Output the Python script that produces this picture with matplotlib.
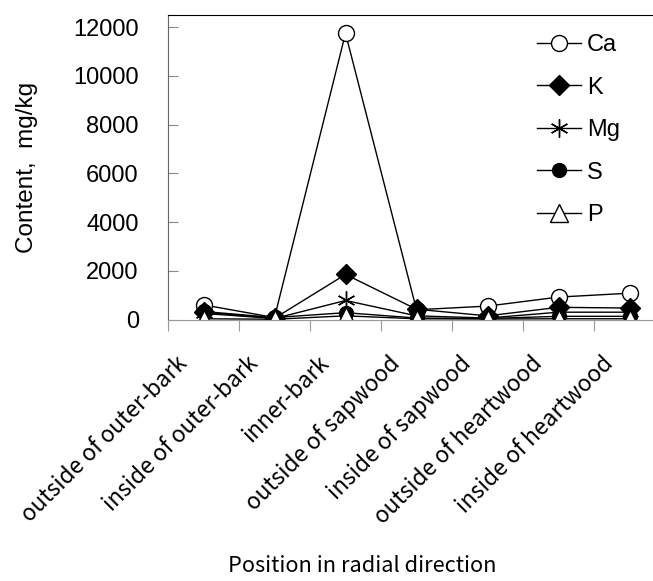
import numpy as np
import matplotlib.pyplot as plt
from matplotlib.transforms import ScaledTranslation

positions = ["outside of outer-bark", "inside of outer-bark", "inner-bark",
             "outside of sapwood", "inside of sapwood", "outside of heartwood",
             "inside of heartwood"]

ca = [600, 80, 11750, 400, 550, 920, 1080]
k = [300, 50, 1850, 420, 150, 500, 470]
mg = [250, 40, 780, 150, 60, 300, 300]
s = [330, 80, 280, 60, 40, 130, 130]
p = [30, 10, 150, 30, 20, 30, 30]

fig = plt.figure(figsize=(6.53, 5.81), dpi=100)
ax = fig.add_axes([168/653, 1-319.5/581, (665-168)/653, (319.5-15)/581])

x = np.arange(len(positions))
lw = 1.0
ax.plot(x, ca, '-', color='black', lw=lw, marker='o', ms=11.5, mfc='white', mec='black', mew=1.0, label='Ca')
ax.plot(x, k, '-', color='black', lw=lw, marker='D', ms=10.5, mfc='black', mec='black', label='K')
ax.plot(x, mg, '-', color='black', lw=lw, marker=(6, 2, 0), ms=13, mec='black', mew=1.0, label='Mg')
ax.plot(x, s, '-', color='black', lw=lw, marker='o', ms=10, mfc='black', mec='black', label='S')
ax.plot(x, p, '-', color='black', lw=lw, marker='^', ms=12.5, mfc='white', mec='black', mew=1.0, label='P')

ax.set_xlim(-0.5, 6.5)
ax.set_ylim(0, 12500)
ax.set_yticks(np.arange(0, 12001, 2000))
ax.tick_params(axis='y', direction='in', length=7, width=0.8, color='#888888', labelsize=17, pad=21)
for t in ax.get_yticklabels():
    t.set_family('Liberation Sans')

ax.set_xticks(np.arange(-0.5, 7, 1), minor=True)
ax.set_xticks(x)
ax.set_xticklabels(positions, rotation=45, ha='right', va='baseline', rotation_mode='anchor',
                   family='Noto Sans CJK JP', fontsize=16.3)
ax.tick_params(axis='x', which='major', length=0, pad=0)
ax.tick_params(axis='x', which='minor', direction='out', length=8, width=0.8, color='#999999')
shift = ScaledTranslation(-0.15, -0.45, fig.dpi_scale_trans)
for t in ax.get_xticklabels():
    t.set_transform(t.get_transform() + shift)

ax.spines['left'].set_color('#666666')
ax.spines['bottom'].set_color('#999999')
ax.spines['top'].set_color('black')
ax.spines['right'].set_visible(False)

ax.set_ylabel('Content,  mg/kg', family='Liberation Sans', fontsize=17.5)
ax.yaxis.set_label_coords((38-168)/497, 0.5)
ax.set_xlabel('Position in radial direction', family='Noto Sans CJK JP', fontsize=15.7)
ax.xaxis.set_label_coords((362-168)/497, (319.5-555)/304.5)

leg = ax.legend(loc='upper left', bbox_to_anchor=(537/653, 1-34/581), bbox_transform=fig.transFigure,
                frameon=False, handlelength=1.86, labelspacing=0.87, handletextpad=0.25,
                borderpad=0, borderaxespad=0,
                prop={'family': 'Liberation Sans', 'size': 17})

fig.savefig('out.png', dpi=100)
